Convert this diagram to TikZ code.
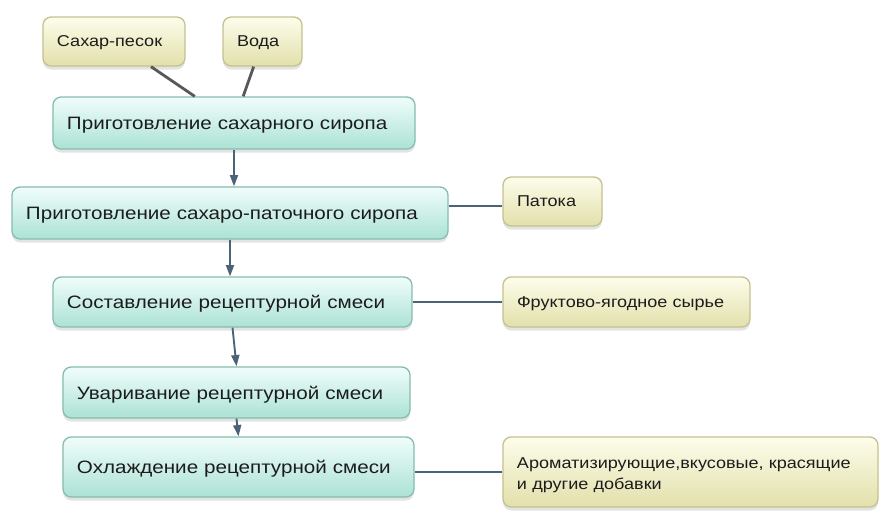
\documentclass[tikz,border=0pt]{standalone}
\usepackage{fontspec}
\setmainfont{Liberation Sans}
\newfontfamily\boxfont{Liberation Sans}[FakeStretch=1.15]
\usepackage{xcolor}
\usepackage{tikz}
\usetikzlibrary{positioning,arrows.meta,shadows,calc}
\definecolor{StageTop}{HTML}{F0FDFB}
\definecolor{StageBottom}{HTML}{ABE2D5}
\definecolor{StageEdge}{HTML}{86BDAF}
\definecolor{InputTop}{HTML}{FDFDEC}
\definecolor{InputBottom}{HTML}{E2E0AA}
\definecolor{InputEdge}{HTML}{C4C290}
\definecolor{FlowLine}{HTML}{4C6276}
\definecolor{FeedLine}{HTML}{585858}
\definecolor{TextDark}{HTML}{1C1C1C}

\begin{document}
\begin{tikzpicture}[x=0.03cm, y=0.03cm,
    box/.style={rounded corners=7pt, line width=1.1pt, inner xsep=0.42cm,
                align=left, text=TextDark, text depth=0pt,
                drop shadow={shadow xshift=0pt, shadow yshift=-3pt, opacity=0.22}},
    stage/.style={box, draw=StageEdge, top color=StageTop, bottom color=StageBottom,
                  font=\boxfont\fontsize{15.3}{20}\selectfont},
    input/.style={box, draw=InputEdge, top color=InputTop, bottom color=InputBottom,
                  font=\boxfont\fontsize{13.4}{18}\selectfont},
    flow/.style={draw=FlowLine, line width=1.6pt, -{Triangle[length=3.4mm,width=2.4mm]}},
    feed/.style={draw=FlowLine, line width=1.6pt},
    pour/.style={draw=FeedLine, line width=2.4pt}]
  \useasboundingbox (0,0) rectangle (890,-519);

  \node[input, minimum height=1.47cm, text width=3.42cm] (sugar) at (114,-41.5) {Сахар-песок};
  \node[input, minimum height=1.47cm, text width=1.53cm] (water) at (262.5,-41.5) {Вода};
  \node[stage, minimum height=1.56cm, text width=10.02cm] (syrup) at (234,-123) {Приготовление сахарного сиропа};
  \node[stage, minimum height=1.56cm, text width=12.24cm] (molsyrup) at (230,-213) {Приготовление сахаро-паточного сиропа};
  \node[input, minimum height=1.47cm, text width=2.13cm] (molasses) at (552.5,-201.5) {Патока};
  \node[stage, minimum height=1.50cm, text width=9.93cm] (recipe) at (232.5,-302) {Составление рецептурной смеси};
  \node[input, minimum height=1.50cm, text width=6.57cm] (fruit) at (626.5,-302) {Фруктово-ягодное сырье};
  \node[stage, minimum height=1.53cm, text width=9.57cm] (boil) at (236.5,-392.5) {Уваривание рецептурной смеси};
  \node[stage, minimum height=1.80cm, text width=9.69cm] (cool) at (238.5,-467) {Охлаждение рецептурной смеси};
  \node[input, minimum height=2.10cm, text width=10.41cm, text depth=15pt] (additives) at (690.5,-472) {Ароматизирующие,вкусовые, красящие\\и другие добавки};

  \draw[pour] (sugar) -- (syrup);
  \draw[pour] (water) -- (syrup.71);
  \draw[flow] (syrup.south) -- (syrup.south |- molsyrup.north);
  \draw[feed] (molasses.185) -- (molasses.185 -| molsyrup.east);
  \draw[flow] (molsyrup.south) -- (molsyrup.south |- recipe.north);
  \draw[feed] (fruit.west) -- (recipe.east);
  \draw[flow] (recipe.south) -- (boil.north);
  \draw[flow] (boil.south) -- (cool.north);
  \draw[feed] (additives.west) -- (additives.west -| cool.east);
\end{tikzpicture}
\end{document}
